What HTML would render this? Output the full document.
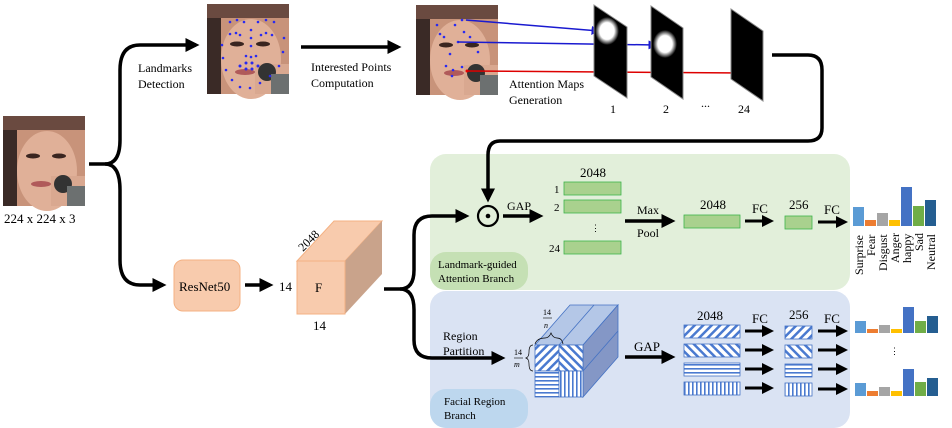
<!DOCTYPE html>
<html><head><meta charset="utf-8"><style>
html,body{margin:0;padding:0;background:#fff;}
svg{display:block;font-family:"Liberation Serif",serif;}
</style></head><body>
<svg width="952" height="428" viewBox="0 0 952 428" xmlns="http://www.w3.org/2000/svg">
<defs>
<marker id="ah" markerWidth="4" markerHeight="4" refX="3" refY="2" orient="auto" markerUnits="strokeWidth"><path d="M0,0L4,2L0,4z" fill="#000"/></marker>
<marker id="ahb" markerWidth="6" markerHeight="6" refX="5" refY="3" orient="auto" markerUnits="strokeWidth"><path d="M0,0L6,3L0,6z" fill="#1a1ad0"/></marker>
<marker id="ahr" markerWidth="6" markerHeight="6" refX="5" refY="3" orient="auto" markerUnits="strokeWidth"><path d="M0,0L6,3L0,6z" fill="#d00"/></marker>
<pattern id="pd" width="6" height="6" patternUnits="userSpaceOnUse" patternTransform="rotate(45)"><rect width="6" height="6" fill="#fff"/><rect width="2.5" height="6" fill="#4a7ad0"/></pattern>
<pattern id="pa" width="6" height="6" patternUnits="userSpaceOnUse" patternTransform="rotate(-45)"><rect width="6" height="6" fill="#fff"/><rect width="2.5" height="6" fill="#4a7ad0"/></pattern>
<pattern id="ph" width="4" height="4" patternUnits="userSpaceOnUse"><rect width="4" height="4" fill="#fff"/><rect width="4" height="1.6" fill="#4a7ad0"/></pattern>
<pattern id="pv" width="4" height="4" patternUnits="userSpaceOnUse"><rect width="4" height="4" fill="#fff"/><rect width="1.6" height="4" fill="#4a7ad0"/></pattern>
<radialGradient id="glow"><stop offset="0" stop-color="#fff"/><stop offset="0.6" stop-color="#fff"/><stop offset="1" stop-color="#000"/></radialGradient>
<g id="face">
<rect width="82" height="90" fill="#c8937a"/>
<rect width="14" height="90" fill="#3a2a26"/>
<rect x="0" y="0" width="82" height="14" fill="#6a4a40"/>
<ellipse cx="44" cy="55" rx="30" ry="40" fill="#e0b098"/>
<ellipse cx="30" cy="40" rx="7" ry="2.5" fill="#3a2520"/>
<ellipse cx="56" cy="40" rx="7" ry="2.5" fill="#3a2520"/>
<ellipse cx="38" cy="68" rx="10" ry="3" fill="#b05a5a"/>
<rect x="48" y="60" width="34" height="30" fill="#d9a890"/>
<ellipse cx="60" cy="68" rx="9" ry="9" fill="#333"/>
<rect x="64" y="70" width="18" height="20" fill="#6c7070"/>
</g>
</defs>

<rect x="430" y="154" width="420" height="136" rx="16" fill="#e2efda"/>
<rect x="430" y="252" width="98" height="38" rx="16" fill="#c5e0b4"/>
<rect x="430" y="291" width="420" height="137" rx="16" fill="#dae3f3"/>
<rect x="430" y="389" width="98" height="39" rx="16" fill="#bdd7ee"/>
<text x="438" y="268" font-size="11">Landmark-guided</text>
<text x="438" y="282" font-size="11">Attention Branch</text>
<text x="444" y="405" font-size="11">Facial Region</text>
<text x="444" y="419" font-size="11">Branch</text>

<use href="#face" x="3" y="116"/>
<text x="4" y="223" font-size="13">224 x 224 x 3</text>
<path d="M89,164 L105,164 Q120,164 120,140 L120,70 Q120,45 140,45 L196,45" fill="none" stroke="#000" stroke-width="3.5" marker-end="url(#ah)"/>
<path d="M105,164 Q120,164 120,190 L120,260 Q120,285 140,285 L163,285" fill="none" stroke="#000" stroke-width="3.5" marker-end="url(#ah)"/>
<text x="138" y="72" font-size="12">Landmarks</text>
<text x="138" y="88" font-size="12">Detection</text>

<use href="#face" x="207" y="4"/>
<g fill="#2a2af0">
<circle cx="222" cy="45" r="1.3"/><circle cx="223" cy="58" r="1.3"/><circle cx="226" cy="70" r="1.3"/><circle cx="232" cy="80" r="1.3"/><circle cx="240" cy="87" r="1.3"/><circle cx="250" cy="88" r="1.3"/><circle cx="260" cy="83" r="1.3"/><circle cx="270" cy="76" r="1.3"/><circle cx="279" cy="66" r="1.3"/><circle cx="283" cy="52" r="1.3"/><circle cx="284" cy="38" r="1.3"/>
<circle cx="230" cy="22" r="1.3"/><circle cx="237" cy="20" r="1.3"/><circle cx="244" cy="22" r="1.3"/><circle cx="258" cy="22" r="1.3"/><circle cx="266" cy="20" r="1.3"/><circle cx="274" cy="22" r="1.3"/>
<circle cx="230" cy="34" r="1.3"/><circle cx="236" cy="33" r="1.3"/><circle cx="240" cy="35" r="1.3"/><circle cx="261" cy="35" r="1.3"/><circle cx="266" cy="33" r="1.3"/><circle cx="272" cy="35" r="1.3"/>
<circle cx="251" cy="30" r="1.3"/><circle cx="251" cy="38" r="1.3"/><circle cx="251" cy="46" r="1.3"/><circle cx="246" cy="56" r="1.3"/><circle cx="251" cy="57" r="1.3"/><circle cx="256" cy="56" r="1.3"/>
<circle cx="240" cy="66" r="1.5"/><circle cx="246" cy="63" r="1.5"/><circle cx="252" cy="63" r="1.5"/><circle cx="258" cy="66" r="1.5"/><circle cx="246" cy="69" r="1.5"/><circle cx="252" cy="69" r="1.5"/>
</g>
<line x1="301" y1="47" x2="398" y2="47" stroke="#000" stroke-width="3.5" marker-end="url(#ah)"/>
<text x="311" y="71" font-size="12">Interested Points</text>
<text x="311" y="87" font-size="12">Computation</text>

<use href="#face" x="416" y="5"/>
<g fill="#2a2af0">
<circle cx="437" cy="25" r="1.3"/><circle cx="455" cy="25" r="1.3"/><circle cx="462" cy="20" r="1.3"/><circle cx="440" cy="34" r="1.3"/><circle cx="444" cy="37" r="1.3"/><circle cx="464" cy="32" r="1.3"/><circle cx="470" cy="37" r="1.3"/><circle cx="458" cy="42" r="1.3"/><circle cx="450" cy="54" r="1.3"/><circle cx="478" cy="52" r="1.3"/><circle cx="446" cy="66" r="1.3"/><circle cx="453" cy="70" r="1.3"/><circle cx="462" cy="67" r="1.3"/><circle cx="452" cy="76" r="1.3"/>
</g>
<circle cx="467" cy="71" r="1.5" fill="#e00"/>
<line x1="466" y1="20" x2="599" y2="31" stroke="#1a1ad0" stroke-width="1.5" marker-end="url(#ahb)"/>
<line x1="458" y1="42" x2="656" y2="45" stroke="#1a1ad0" stroke-width="1.5" marker-end="url(#ahb)"/>
<line x1="467" y1="71" x2="744" y2="73" stroke="#d00" stroke-width="1.5" marker-end="url(#ahr)"/>
<text x="509" y="88" font-size="12">Attention Maps</text>
<text x="509" y="104" font-size="12">Generation</text>

<g>
<polygon points="594,5 627,27 627,98 594,76" fill="#000" stroke="#888" stroke-width="1"/>
<ellipse cx="607" cy="31" rx="12" ry="14" fill="url(#glow)"/>
<polygon points="651,6 683,28 683,99 651,77" fill="#000" stroke="#888" stroke-width="1"/>
<ellipse cx="665" cy="44" rx="12" ry="14" fill="url(#glow)"/>
<polygon points="731,9 763,31 763,101 731,79" fill="#000" stroke="#888" stroke-width="1"/>
</g>
<text x="610" y="113" font-size="12">1</text>
<text x="663" y="113" font-size="12">2</text>
<text x="701" y="107" font-size="12">...</text>
<text x="738" y="113" font-size="12">24</text>

<path d="M772,55 L808,55 Q822,55 822,70 L822,128 Q822,141 808,141 L500,141 Q488,141 488,155 L488,199" fill="none" stroke="#000" stroke-width="3.5" marker-end="url(#ah)"/>

<rect x="174" y="260" width="66" height="51" rx="9" fill="#f8cbad" stroke="#f4b183"/>
<text x="179" y="291" font-size="13">ResNet50</text>
<line x1="245" y1="285" x2="270" y2="285" stroke="#000" stroke-width="3.5" marker-end="url(#ah)"/>
<text x="279" y="291" font-size="13">14</text>
<polygon points="297,261 334,221 382,221 345,261" fill="#f8cbad" stroke="#f4b183"/>
<polygon points="345,261 382,221 382,274 345,314" fill="#c9a38b"/>
<rect x="297" y="261" width="48" height="53" fill="#f8cbad" stroke="#f4b183"/>
<text x="315" y="292" font-size="13">F</text>
<text x="313" y="330" font-size="13">14</text>
<text x="0" y="0" font-size="12" transform="translate(303,252) rotate(-45)">2048</text>

<path d="M384,289 L400,289 Q414,289 414,270 L414,235 Q414,216 432,216 L466,216" fill="none" stroke="#000" stroke-width="3.5" marker-end="url(#ah)"/>
<path d="M400,289 Q414,289 414,310 L414,340 Q414,358 432,358 L502,358" fill="none" stroke="#000" stroke-width="3.5" marker-end="url(#ah)"/>
<text x="443" y="340" font-size="12">Region</text>
<text x="443" y="355" font-size="12">Partition</text>

<circle cx="488" cy="216" r="10" fill="none" stroke="#000" stroke-width="2.2"/>
<circle cx="488" cy="216" r="2.3" fill="#000"/>
<line x1="503" y1="216" x2="540" y2="216" stroke="#000" stroke-width="3.5" marker-end="url(#ah)"/>
<text x="507" y="210" font-size="12">GAP</text>

<g fill="#a9d18e" stroke="#3cb44b" stroke-width="0.8">
<rect x="564" y="182" width="57" height="13"/>
<rect x="564" y="200" width="57" height="13"/>
<rect x="564" y="241" width="57" height="13"/>
<rect x="684" y="215" width="56" height="13"/>
<rect x="785" y="216" width="27" height="13"/>
</g>
<text x="580" y="177" font-size="13">2048</text>
<text x="554" y="193" font-size="11">1</text>
<text x="554" y="211" font-size="11">2</text>
<text x="591" y="231" font-size="9">⋮</text>
<text x="549" y="252" font-size="11">24</text>
<line x1="625" y1="221" x2="672" y2="221" stroke="#000" stroke-width="3.5" marker-end="url(#ah)"/>
<text x="637" y="214" font-size="12">Max</text>
<text x="637" y="237" font-size="12">Pool</text>
<text x="700" y="209" font-size="13">2048</text>
<line x1="745" y1="221" x2="771" y2="221" stroke="#000" stroke-width="3" marker-end="url(#ah)"/>
<text x="752" y="213" font-size="13">FC</text>
<text x="789" y="209" font-size="13">256</text>
<line x1="818" y1="222" x2="845" y2="222" stroke="#000" stroke-width="3" marker-end="url(#ah)"/>
<text x="824" y="214" font-size="13">FC</text>

<g>
<rect x="853" y="207" width="11" height="19" fill="#5b9bd5"/>
<rect x="865" y="220" width="11" height="6" fill="#ed7d31"/>
<rect x="877" y="213" width="11" height="13" fill="#a5a5a5"/>
<rect x="889" y="220" width="11" height="6" fill="#ffc000"/>
<rect x="901" y="187" width="11" height="39" fill="#4472c4"/>
<rect x="913" y="206" width="11" height="20" fill="#70ad47"/>
<rect x="925" y="200" width="11" height="26" fill="#255e91"/>
</g>
<g font-size="12">
<text transform="translate(863,275) rotate(-90)">Surprise</text>
<text transform="translate(875,256) rotate(-90)">Fear</text>
<text transform="translate(887,271) rotate(-90)">Disgust</text>
<text transform="translate(899,263) rotate(-90)">Anger</text>
<text transform="translate(911,263) rotate(-90)">happy</text>
<text transform="translate(923,251) rotate(-90)">Sad</text>
<text transform="translate(935,270) rotate(-90)">Neutral</text>
</g>

<polygon points="535,345 570,305 618,305 583,345" fill="#b4c7e7" stroke="#4472c4" stroke-width="0.8"/>
<line x1="559" y1="345" x2="594" y2="305" stroke="#4472c4" stroke-width="0.8"/>
<polygon points="583,345 618,305 618,357 583,397" fill="#8497c6" stroke="#4472c4" stroke-width="0.8"/>
<line x1="583" y1="371" x2="618" y2="331" stroke="#4472c4" stroke-width="0.8"/>
<rect x="535" y="345" width="24" height="26" fill="url(#pd)" stroke="#4472c4" stroke-width="0.8"/>
<rect x="559" y="345" width="24" height="26" fill="url(#pa)" stroke="#4472c4" stroke-width="0.8"/>
<rect x="535" y="371" width="24" height="26" fill="url(#ph)" stroke="#4472c4" stroke-width="0.8"/>
<rect x="559" y="371" width="24" height="26" fill="url(#pv)" stroke="#4472c4" stroke-width="0.8"/>
<path d="M535,344 Q537,338 545,338 Q549,338 551,333 Q553,338 557,338 Q562,338 563,344" fill="none" stroke="#000" stroke-width="0.7"/>
<text x="543" y="315" font-size="8">14</text><line x1="543" y1="318" x2="552" y2="318" stroke="#000" stroke-width="0.6"/><text x="544" y="328" font-size="8" font-style="italic">n</text>
<text x="514" y="355" font-size="8">14</text><line x1="514" y1="358" x2="523" y2="358" stroke="#000" stroke-width="0.6"/><text x="514" y="367" font-size="8" font-style="italic">m</text>
<path d="M533,345 Q529,345 529,352 Q529,357 526,358 Q529,359 529,364 Q529,371 533,371" fill="none" stroke="#000" stroke-width="0.7"/>
<line x1="625" y1="357" x2="672" y2="357" stroke="#000" stroke-width="3.5" marker-end="url(#ah)"/>
<text x="634" y="351" font-size="13">GAP</text>

<text x="697" y="320" font-size="13">2048</text>
<text x="789" y="319" font-size="13">256</text>
<g stroke="#4472c4" stroke-width="0.8">
<rect x="684" y="325" width="56" height="13" fill="url(#pd)"/>
<rect x="684" y="344" width="56" height="13" fill="url(#pa)"/>
<rect x="684" y="363" width="56" height="13" fill="url(#ph)"/>
<rect x="684" y="382" width="56" height="13" fill="url(#pv)"/>
<rect x="785" y="326" width="27" height="13" fill="url(#pd)"/>
<rect x="785" y="345" width="27" height="13" fill="url(#pa)"/>
<rect x="785" y="364" width="27" height="13" fill="url(#ph)"/>
<rect x="785" y="383" width="27" height="13" fill="url(#pv)"/>
</g>
<g stroke="#000" stroke-width="3" marker-end="url(#ah)">
<line x1="745" y1="331" x2="771" y2="331"/>
<line x1="745" y1="350" x2="771" y2="350"/>
<line x1="745" y1="369" x2="771" y2="369"/>
<line x1="745" y1="388" x2="771" y2="388"/>
<line x1="818" y1="331" x2="845" y2="331"/>
<line x1="818" y1="350" x2="845" y2="350"/>
<line x1="818" y1="369" x2="845" y2="369"/>
<line x1="818" y1="389" x2="845" y2="389"/>
</g>
<text x="752" y="323" font-size="13">FC</text>
<text x="824" y="323" font-size="13">FC</text>
<text x="890" y="354" font-size="9">⋮</text>

<g>
<rect x="855" y="321" width="11" height="12" fill="#5b9bd5"/>
<rect x="867" y="329" width="11" height="4" fill="#ed7d31"/>
<rect x="879" y="325" width="11" height="8" fill="#a5a5a5"/>
<rect x="891" y="329" width="11" height="4" fill="#ffc000"/>
<rect x="903" y="307" width="11" height="26" fill="#4472c4"/>
<rect x="915" y="321" width="11" height="12" fill="#70ad47"/>
<rect x="927" y="316" width="11" height="17" fill="#255e91"/>
<rect x="855" y="383" width="11" height="13" fill="#5b9bd5"/>
<rect x="867" y="391" width="11" height="5" fill="#ed7d31"/>
<rect x="879" y="387" width="11" height="9" fill="#a5a5a5"/>
<rect x="891" y="391" width="11" height="5" fill="#ffc000"/>
<rect x="903" y="369" width="11" height="27" fill="#4472c4"/>
<rect x="915" y="382" width="11" height="14" fill="#70ad47"/>
<rect x="927" y="378" width="11" height="18" fill="#255e91"/>
</g>
</svg>
</body></html>
